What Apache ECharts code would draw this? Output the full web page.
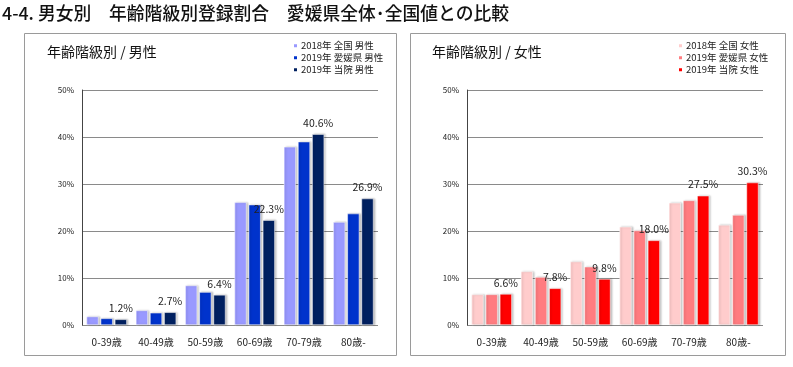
<!DOCTYPE html>
<html><head><meta charset="utf-8">
<script src="https://cdn.jsdelivr.net/npm/echarts@6/dist/echarts.min.js"></script>
<style>html,body{margin:0;padding:0;background:#fff}#c{width:793px;height:367px}</style>
</head><body><div id="c"></div>
<script>
const categories = ['0-39歳','40-49歳','50-59歳','60-69歳','70-79歳','80歳-'];
const yTicks = [0,10,20,30,40,50];
const maleNames = ['2018年 全国 男性','2019年 愛媛県 男性','2019年 当院 男性'];
const maleNational = [1.8, 3.1, 8.4, 26.1, 37.9, 21.9];
const maleEhime   = [1.4, 2.6, 7.0, 25.6, 39.0, 23.7];
const maleHospital= [1.2, 2.7, 6.4, 22.3, 40.6, 26.9];
const femaleNames = ['2018年 全国 女性','2019年 愛媛県 女性','2019年 当院 女性'];
const femaleNational = [6.5, 11.4, 13.5, 20.9, 26.0, 21.3];
const femaleEhime    = [6.5, 10.2, 12.4, 20.1, 26.5, 23.4];
const femaleHospital = [6.6, 7.8, 9.8, 18.0, 27.5, 30.3];

const maleColors = ['#9999ff','#0033cc','#002060'];
const femaleColors = ['#ffcccc','#ff7c80','#ff0000'];
const FONT = '"Noto Sans CJK JP","Noto Sans",sans-serif';

function barSeries(name, data, color, idx, labeled){
  return {
    name, type:'bar', data, xAxisIndex:idx, yAxisIndex:idx,
    barWidth:12, barGap:'18%',
    itemStyle:{color, borderColor:'#fff', borderWidth:0.5, shadowColor:'rgba(0,0,0,0.25)', shadowBlur:2, shadowOffsetX:1.5, shadowOffsetY:0},
    label: labeled ? {show:true, position:'top', distance:6, formatter: p => p.value.toFixed(1)+'%', fontSize:10.5, color:'#222', fontFamily:FONT} : {show:false}
  };
}
function xAx(idx){ return {type:'category', gridIndex:idx, data:categories,
  axisLine:{show:false}, axisTick:{show:false},
  axisLabel:{fontSize:10, color:'#222', margin:12, fontFamily:FONT}}; }
function yAx(idx){ return {type:'value', gridIndex:idx, min:yTicks[0], max:yTicks[yTicks.length-1], interval:10,
  axisLine:{show:true, lineStyle:{color:'#444', width:1}}, axisTick:{show:false},
  splitLine:{lineStyle:{color:'#8a8a8a', width:1}},
  axisLabel:{fontSize:8, color:'#222', margin:8, formatter: v => v+'%', fontFamily:FONT}}; }

const chart = echarts.init(document.getElementById('c'), null, {renderer:'canvas'});
chart.setOption({
  animation:false,
  textStyle:{fontFamily:FONT},
  title:[
    {text:'4-4. 男女別　年齢階級別登録割合　愛媛県全体･全国値との比較', left:2, top:4, padding:0,
     textStyle:{fontSize:17.8, fontWeight:500, color:'#111', fontFamily:FONT}},
    {text:'年齢階級別 / 男性', left:47, top:45, padding:0, textStyle:{fontSize:14, fontWeight:'normal', color:'#111', fontFamily:FONT}},
    {text:'年齢階級別 / 女性', left:432, top:45, padding:0, textStyle:{fontSize:14, fontWeight:'normal', color:'#111', fontFamily:FONT}}
  ],
  graphic:[
    {type:'rect', shape:{x:24.5, y:33.5, width:372, height:322}, style:{fill:'none', stroke:'#9a9a9a', lineWidth:1}},
    {type:'rect', shape:{x:410.5, y:33.5, width:375, height:322}, style:{fill:'none', stroke:'#9a9a9a', lineWidth:1}}
  ],
  legend:[
    {data:maleNames, orient:'vertical', left:292, top:41, padding:0, itemWidth:5, itemHeight:5, itemGap:2.5, icon:'rect',
     textStyle:{fontSize:9.5, color:'#222', fontFamily:FONT, padding:[0,0,0,-2]}},
    {data:femaleNames, orient:'vertical', left:677, top:41, padding:0, itemWidth:5, itemHeight:5, itemGap:2.5, icon:'rect',
     textStyle:{fontSize:9.5, color:'#222', fontFamily:FONT, padding:[0,0,0,-2]}}
  ],
  grid:[
    {left:82, top:90, width:296, height:235},
    {left:467, top:90, width:296, height:235}
  ],
  xAxis:[xAx(0), xAx(1)],
  yAxis:[yAx(0), yAx(1)],
  series:[
    barSeries(maleNames[0], maleNational, maleColors[0], 0, false),
    barSeries(maleNames[1], maleEhime, maleColors[1], 0, false),
    barSeries(maleNames[2], maleHospital, maleColors[2], 0, true),
    barSeries(femaleNames[0], femaleNational, femaleColors[0], 1, false),
    barSeries(femaleNames[1], femaleEhime, femaleColors[1], 1, false),
    barSeries(femaleNames[2], femaleHospital, femaleColors[2], 1, true)
  ]
});
</script></body></html>
